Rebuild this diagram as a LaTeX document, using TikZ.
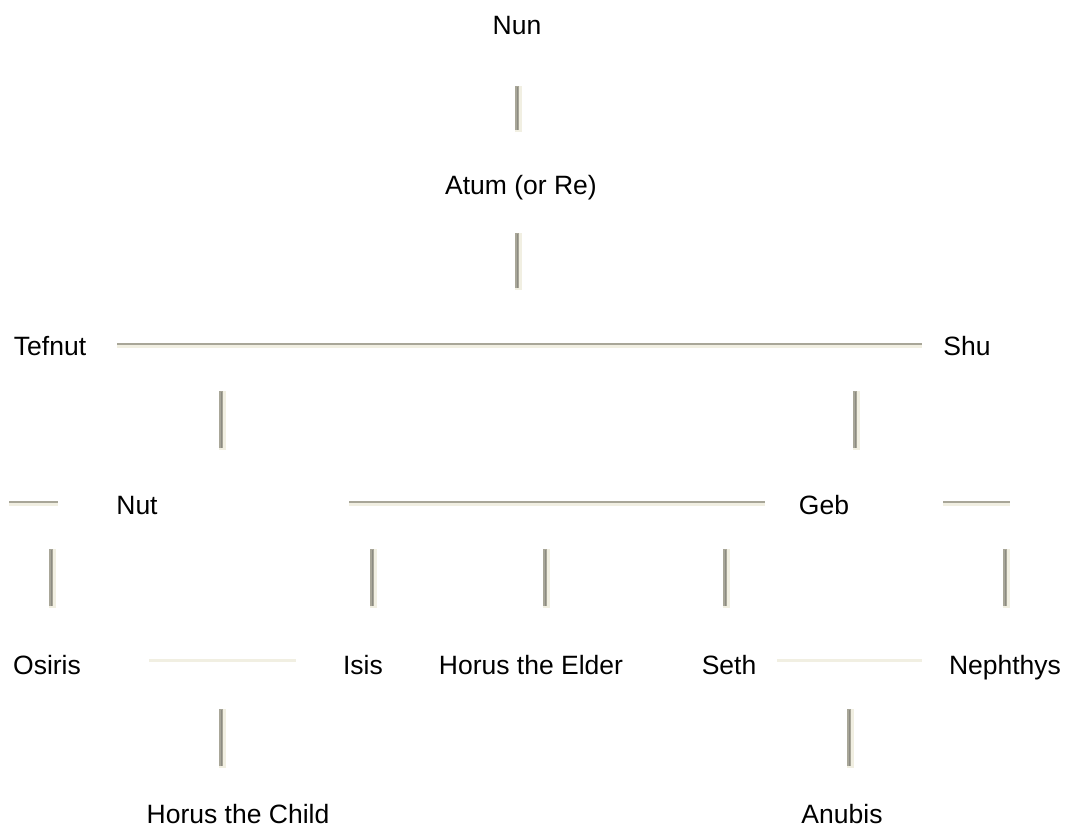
\documentclass[tikz,border=0pt]{standalone}
\usepackage{fontspec}
\setmainfont{Liberation Sans}
\definecolor{gv}{RGB}{168,166,152}
\definecolor{gd}{RGB}{140,139,130}
\definecolor{lt}{RGB}{241,239,226}
\newcommand{\vgroove}[3]{%
  \fill[lt] (#1,#2) rectangle ({#1+7},#3);
  \fill[gv] (#1,#2) rectangle ({#1+4},{#3-2});
  \fill[gd] ({#1+2},{#2+1}) rectangle ({#1+3},{#3-2});}
\newcommand{\hgroove}[3]{%
  \fill[lt] (#1,#3) rectangle (#2,{#3+5});
  \fill[gv] (#1,#3) rectangle (#2,{#3+2});}
\newcommand{\hlight}[3]{%
  \fill[lt] (#1,#3) rectangle (#2,{#3+3});}
\begin{document}
\begin{tikzpicture}[x=1pt,y=-1pt,
  god/.style={font=\fontsize{26.5}{30}\selectfont, inner sep=0pt, text=black,
    text height=19pt, text depth=0pt}]
\useasboundingbox[fill=white] (0,0) rectangle (1074,830);
% names
\node[god] (nun) at (517,25) {Nun};
\node[god] (atum) at (521,185) {Atum (or Re)};
\node[god] (tefnut) at (50,346) {Tefnut};
\node[god] (shu) at (967,346) {Shu};
\node[god] (nut) at (137,505) {Nut};
\node[god] (geb) at (824,505) {Geb};
\node[god] (osiris) at (47,665) {Osiris};
\node[god] (isis) at (363,665) {Isis};
\node[god] (horuse) at (531,665) {Horus the Elder};
\node[god] (seth) at (729,665) {Seth};
\node[god] (nephthys) at (1005,665) {Nephthys};
\node[god] (horusc) at (238,814) {Horus the Child};
\node[god] (anubis) at (842,814) {Anubis};
% grooves
\vgroove{515}{86}{132}
\vgroove{515}{233}{290}
\hgroove{117}{922}{343}
\vgroove{219}{391}{450}
\vgroove{853}{391}{450}
\hgroove{9}{58}{501}
\hgroove{349}{765}{501}
\hgroove{943}{1010}{501}
\vgroove{49}{549}{608}
\vgroove{370}{549}{608}
\vgroove{543}{549}{608}
\vgroove{723}{549}{608}
\vgroove{1003}{549}{608}
\hlight{149}{296}{659}
\hlight{777}{922}{659}
\vgroove{219}{709}{768}
\vgroove{847}{709}{768}
\end{tikzpicture}
\end{document}
